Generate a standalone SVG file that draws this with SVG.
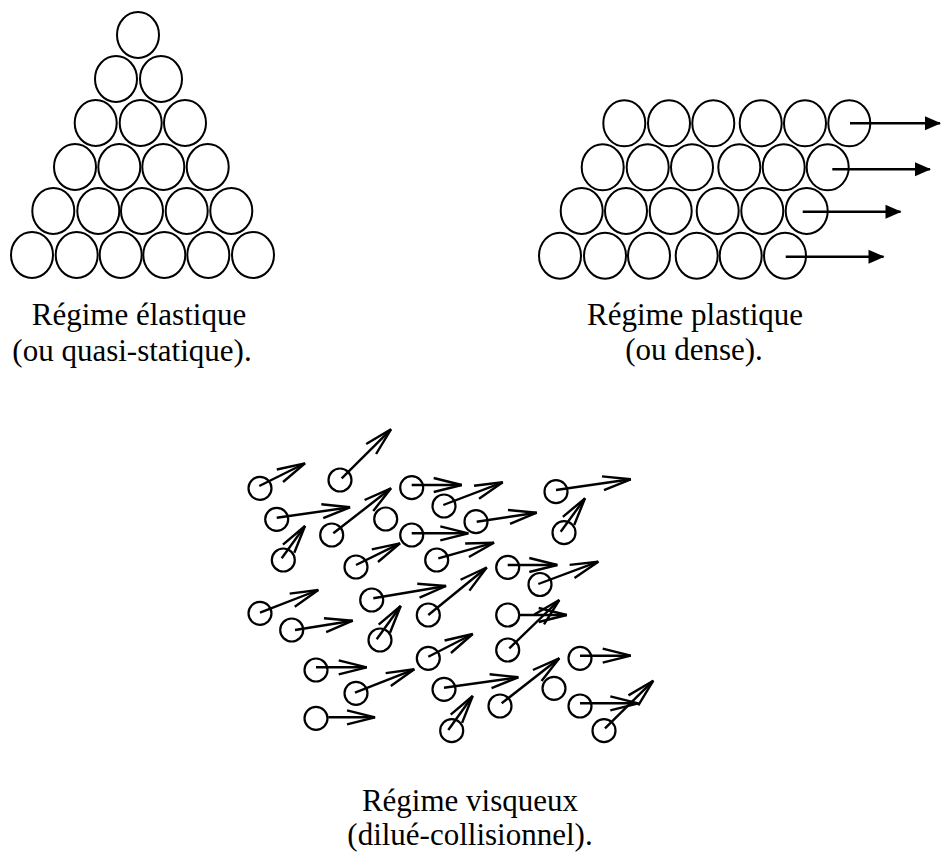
<svg xmlns="http://www.w3.org/2000/svg" width="941" height="854" viewBox="0 0 941 854">
<style>
.g{fill:none;stroke:#000;stroke-width:2}
.v{fill:none;stroke:#000;stroke-width:2.2}
.pa{stroke:#000;stroke-width:2.5;fill:none;marker-end:url(#solid)}
.va{stroke:#000;stroke-width:2.4;fill:none;marker-end:url(#open)}
text{font-family:"Liberation Serif","Times New Roman",serif;font-size:31px;fill:#000;text-anchor:middle}
</style>
<defs>
<marker id="solid" markerUnits="userSpaceOnUse" markerWidth="20" markerHeight="16" viewBox="-16 -8 20 16" refX="0" refY="0" orient="auto" overflow="visible">
<path d="M-15,-7 L1,0 L-15,7 Z" fill="#000"/>
</marker>
<marker id="open" markerUnits="userSpaceOnUse" markerWidth="40" markerHeight="20" viewBox="-36 -10 40 20" refX="0" refY="0" orient="auto" overflow="visible">
<path d="M-28,-7 L0,0 L-28,7" fill="none" stroke="#000" stroke-width="2.4" stroke-linejoin="miter"/>
</marker>
</defs>

<g id="elastic">
<ellipse class="g" cx="138" cy="35" rx="21" ry="23"/>
<ellipse class="g" cx="116" cy="79" rx="21" ry="23"/>
<ellipse class="g" cx="161" cy="79" rx="21" ry="23"/>
<ellipse class="g" cx="95.7" cy="123" rx="21" ry="23"/>
<ellipse class="g" cx="140.7" cy="123" rx="21" ry="23"/>
<ellipse class="g" cx="185" cy="123" rx="21" ry="23"/>
<ellipse class="g" cx="75" cy="167" rx="21" ry="23"/>
<ellipse class="g" cx="119.3" cy="167" rx="21" ry="23"/>
<ellipse class="g" cx="163.3" cy="167" rx="21" ry="23"/>
<ellipse class="g" cx="207.7" cy="167" rx="21" ry="23"/>
<ellipse class="g" cx="53.3" cy="211" rx="21" ry="23"/>
<ellipse class="g" cx="98.3" cy="211" rx="21" ry="23"/>
<ellipse class="g" cx="142" cy="211" rx="21" ry="23"/>
<ellipse class="g" cx="186.7" cy="211" rx="21" ry="23"/>
<ellipse class="g" cx="231.3" cy="211" rx="21" ry="23"/>
<ellipse class="g" cx="32" cy="255" rx="21" ry="23"/>
<ellipse class="g" cx="76.7" cy="255" rx="21" ry="23"/>
<ellipse class="g" cx="120.7" cy="255" rx="21" ry="23"/>
<ellipse class="g" cx="164.3" cy="255" rx="21" ry="23"/>
<ellipse class="g" cx="208.3" cy="255" rx="21" ry="23"/>
<ellipse class="g" cx="253" cy="255" rx="21" ry="23"/>
<text x="139" y="325">Régime élastique</text>
<text x="132" y="361">(ou quasi-statique).</text>
</g>

<g id="plastic">
<ellipse class="g" cx="624.3" cy="123.3" rx="21" ry="23"/>
<ellipse class="g" cx="669" cy="123.3" rx="21" ry="23"/>
<ellipse class="g" cx="713.3" cy="123.3" rx="21" ry="23"/>
<ellipse class="g" cx="760.7" cy="123.3" rx="21" ry="23"/>
<ellipse class="g" cx="805" cy="123.3" rx="21" ry="23"/>
<ellipse class="g" cx="849.3" cy="123.3" rx="21" ry="23"/>
<ellipse class="g" cx="602.7" cy="167.3" rx="21" ry="23"/>
<ellipse class="g" cx="647.7" cy="167.3" rx="21" ry="23"/>
<ellipse class="g" cx="692" cy="167.3" rx="21" ry="23"/>
<ellipse class="g" cx="739.3" cy="167.3" rx="21" ry="23"/>
<ellipse class="g" cx="783.7" cy="167.3" rx="21" ry="23"/>
<ellipse class="g" cx="827.7" cy="167.3" rx="21" ry="23"/>
<ellipse class="g" cx="581.7" cy="211" rx="21" ry="23"/>
<ellipse class="g" cx="626" cy="211" rx="21" ry="23"/>
<ellipse class="g" cx="670.7" cy="211" rx="21" ry="23"/>
<ellipse class="g" cx="717.7" cy="211" rx="21" ry="23"/>
<ellipse class="g" cx="762.3" cy="211" rx="21" ry="23"/>
<ellipse class="g" cx="806.7" cy="211" rx="21" ry="23"/>
<ellipse class="g" cx="560" cy="255.7" rx="21" ry="23"/>
<ellipse class="g" cx="605" cy="255.7" rx="21" ry="23"/>
<ellipse class="g" cx="649" cy="255.7" rx="21" ry="23"/>
<ellipse class="g" cx="696.7" cy="255.7" rx="21" ry="23"/>
<ellipse class="g" cx="740.7" cy="255.7" rx="21" ry="23"/>
<ellipse class="g" cx="785" cy="255.7" rx="21" ry="23"/>
<text x="695" y="325">Régime plastique</text>
<text x="694" y="360">(ou dense).</text>
</g>

<g id="viscous">
<circle class="v" cx="260" cy="488.3" r="11.5"/>
<circle class="v" cx="340" cy="480" r="11.5"/>
<circle class="v" cx="411.7" cy="487.7" r="11.5"/>
<circle class="v" cx="276.7" cy="519.3" r="11.5"/>
<circle class="v" cx="331.7" cy="535" r="11.5"/>
<circle class="v" cx="385.7" cy="519" r="11.5"/>
<circle class="v" cx="283.3" cy="560" r="11.5"/>
<circle class="v" cx="444" cy="506" r="11.5"/>
<circle class="v" cx="411.7" cy="535" r="11.5"/>
<circle class="v" cx="356" cy="567" r="11.5"/>
<circle class="v" cx="436.7" cy="560" r="11.5"/>
<circle class="v" cx="476" cy="521.7" r="11.5"/>
<circle class="v" cx="556" cy="491.7" r="11.5"/>
<circle class="v" cx="564" cy="532.7" r="11.5"/>
<circle class="v" cx="507.7" cy="567.3" r="11.5"/>
<circle class="v" cx="540" cy="584.5" r="11.5"/>
<circle class="v" cx="260" cy="613.3" r="11.5"/>
<circle class="v" cx="291.7" cy="630" r="11.5"/>
<circle class="v" cx="371.7" cy="600" r="11.5"/>
<circle class="v" cx="380" cy="640" r="11.5"/>
<circle class="v" cx="428.3" cy="615" r="11.5"/>
<circle class="v" cx="428.3" cy="658.3" r="11.5"/>
<circle class="v" cx="316" cy="670" r="11.5"/>
<circle class="v" cx="356" cy="693.3" r="11.5"/>
<circle class="v" cx="316" cy="718.3" r="11.5"/>
<circle class="v" cx="444" cy="689.3" r="11.5"/>
<circle class="v" cx="451.7" cy="730.7" r="11.5"/>
<circle class="v" cx="507.7" cy="615" r="11.5"/>
<circle class="v" cx="507.7" cy="650" r="11.5"/>
<circle class="v" cx="580" cy="658.3" r="11.5"/>
<circle class="v" cx="500" cy="706" r="11.5"/>
<circle class="v" cx="554" cy="688.3" r="11.5"/>
<circle class="v" cx="580" cy="706" r="11.5"/>
<circle class="v" cx="604" cy="730.7" r="11.5"/>
<text x="470" y="811">Régime visqueux</text>
<text x="470" y="845">(dilué-collisionnel).</text>
</g>

<g id="connectors">
<line class="pa" x1="850" y1="123.3" x2="940" y2="123.3"/>
<line class="pa" x1="832.3" y1="169.3" x2="930" y2="169.3"/>
<line class="pa" x1="802.7" y1="211.7" x2="900.5" y2="211.7"/>
<line class="pa" x1="785.7" y1="256.7" x2="883.5" y2="256.7"/>

<line class="va" x1="259.3" y1="486" x2="305" y2="463.3"/>
<line class="va" x1="341.7" y1="478.3" x2="391" y2="429.3"/>
<line class="va" x1="411.7" y1="485" x2="461.7" y2="485"/>
<line class="va" x1="276.7" y1="517.7" x2="350" y2="507.3"/>
<line class="va" x1="333.3" y1="533.3" x2="391" y2="488.3"/>
<line class="va" x1="281.7" y1="558.3" x2="305" y2="526"/>
<line class="va" x1="443.3" y1="505" x2="502.7" y2="482.3"/>
<line class="va" x1="411.7" y1="533.3" x2="468.3" y2="533.3"/>
<line class="va" x1="356" y1="565" x2="400" y2="543.3"/>
<line class="va" x1="438.3" y1="558.3" x2="494" y2="542.7"/>
<line class="va" x1="476.7" y1="521.7" x2="536.7" y2="512.7"/>
<line class="va" x1="556" y1="490" x2="630.7" y2="479.3"/>
<line class="va" x1="560.7" y1="531.7" x2="585" y2="498.3"/>
<line class="va" x1="507.7" y1="565" x2="557.3" y2="565"/>
<line class="va" x1="538.3" y1="584" x2="598.3" y2="561.7"/>
<line class="va" x1="428.3" y1="615" x2="486.7" y2="567.5"/>
<line class="va" x1="260" y1="612.7" x2="318.3" y2="590"/>
<line class="va" x1="295" y1="630" x2="352.7" y2="620.7"/>
<line class="va" x1="373.3" y1="598.3" x2="446" y2="586"/>
<line class="va" x1="376.7" y1="639.3" x2="400.7" y2="606"/>
<line class="va" x1="428.3" y1="656.7" x2="472.7" y2="634"/>
<line class="va" x1="316" y1="667.3" x2="366.7" y2="667.3"/>
<line class="va" x1="355" y1="692.7" x2="414.3" y2="669.3"/>
<line class="va" x1="328.3" y1="717.3" x2="375" y2="717.3"/>
<line class="va" x1="444" y1="687.7" x2="518.3" y2="677.3"/>
<line class="va" x1="448.3" y1="730" x2="472.7" y2="696"/>
<line class="va" x1="520" y1="615" x2="566.7" y2="615"/>
<line class="va" x1="509.3" y1="648.3" x2="559.3" y2="600"/>
<line class="va" x1="580" y1="655.7" x2="630.7" y2="655.7"/>
<line class="va" x1="501.7" y1="703.3" x2="559.3" y2="658.3"/>
<line class="va" x1="580" y1="703.3" x2="638.3" y2="703.3"/>
<line class="va" x1="605" y1="728.3" x2="653.3" y2="680.7"/>
</g>
</svg>
